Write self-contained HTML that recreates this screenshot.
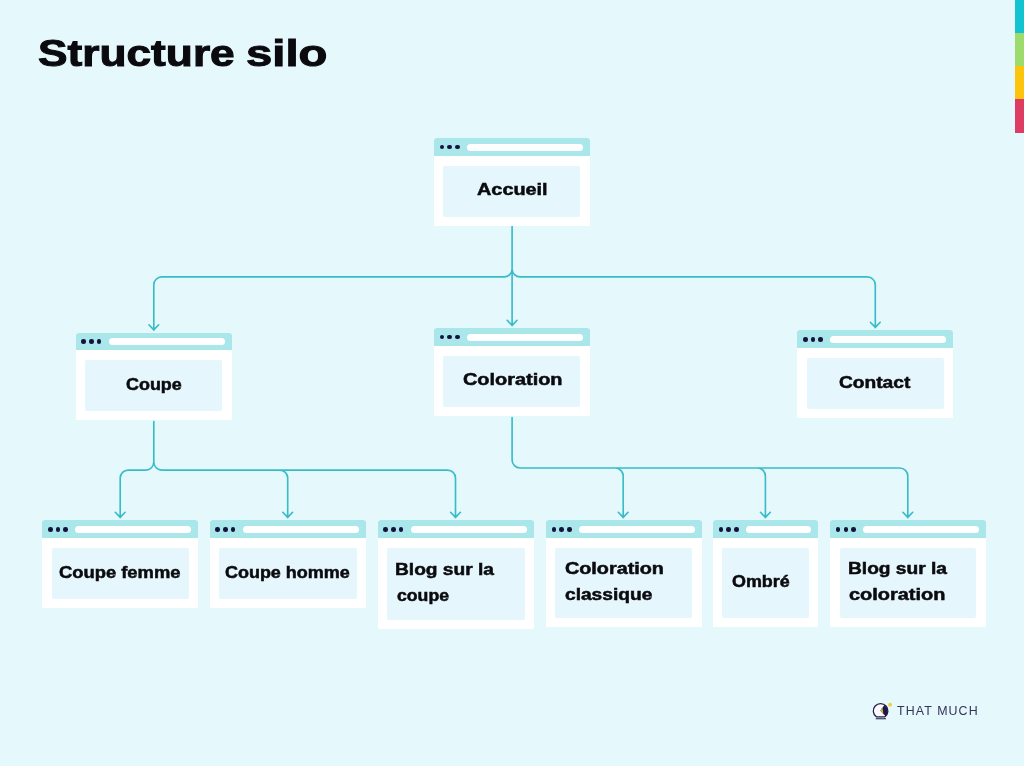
<!DOCTYPE html>
<html lang="fr">
<head>
<meta charset="utf-8">
<title>Structure silo</title>
<style>
html,body{margin:0;padding:0;}
body{width:1024px;height:766px;overflow:hidden;background:#e5f8fc;font-family:"Liberation Sans",sans-serif;color:#0b0b0f;}
#stage{position:relative;width:1024px;height:766px;overflow:hidden;background:#e5f8fc;}
h1{position:absolute;left:0;top:0;margin:0;font-weight:700;font-size:37.2px;line-height:44px;white-space:nowrap;-webkit-text-stroke:1px #0b0b0f;}
h1 span{will-change:transform;position:absolute;top:31.3px;transform-origin:0 0;display:block;}
.win{position:absolute;background:#fff;border-radius:3px 3px 1px 1px;overflow:hidden;}
.bar{position:absolute;left:0;top:0;right:0;height:17.8px;background:#a9e7ea;}
.dot{position:absolute;top:6.6px;width:4.6px;height:4.6px;border-radius:50%;background:#17123b;}
.url{position:absolute;left:33.2px;right:7px;top:5.4px;height:7.3px;border-radius:3.65px;background:#fff;}
.pane{position:absolute;left:9.5px;right:9.6px;top:27.6px;bottom:9.2px;background:#e5f7fd;border-radius:2px;}
.lbl{position:absolute;margin:0;font-weight:700;font-size:16.0px;line-height:20px;white-space:nowrap;transform-origin:0 0;-webkit-text-stroke:0.5px #0b0b0f;will-change:transform;}
svg{position:absolute;left:0;top:0;}
.strip{position:absolute;left:1015px;width:9px;}
.brand{will-change:transform;position:absolute;left:896.8px;top:702.5px;margin:0;font-size:12.4px;line-height:16px;letter-spacing:1.1px;color:#35335a;white-space:nowrap;}
</style>
</head>
<body>
<div id="stage">
<h1><span style="left:38.0px;transform:scaleX(1.19)">Structure</span> <span style="left:246.3px;transform:scaleX(1.27)">silo</span></h1>
<svg width="1024" height="766" viewBox="0 0 1024 766"><path d="M512.1,226 V325.7 M507.2,320.3 L512.1,325.4 L517.0,320.3 M512.1,268.9 A8,8 0 0 1 504.1,276.9 H161.8 A8,8 0 0 0 153.8,284.9 V330.2 M148.9,324.8 L153.8,329.9 L158.7,324.8 M512.1,268.9 A8,8 0 0 0 520.1,276.9 H867.3 A8,8 0 0 1 875.3,284.9 V327.7 M870.4,322.3 L875.3,327.4 L880.2,322.3 M153.8,421.5 V462.1 M153.8,462.1 A8,8 0 0 1 145.8,470.1 H128.2 A8,8 0 0 0 120.2,478.1 V517.7 M115.3,512.3 L120.2,517.4 L125.1,512.3 M153.8,462.1 A8,8 0 0 0 161.8,470.1 H447.5 A8,8 0 0 1 455.5,478.1 V517.7 M450.6,512.3 L455.5,517.4 L460.4,512.3 M279.7,470.1 A8,8 0 0 1 287.7,478.1 V517.7 M282.8,512.3 L287.7,517.4 L292.6,512.3 M512.1,417.5 V460.0 M512.1,460.0 A8,8 0 0 0 520.1,468.0 H899.8 A8,8 0 0 1 907.8,476.0 V517.7 M902.9,512.3 L907.8,517.4 L912.7,512.3 M615.2,468.0 A8,8 0 0 1 623.2,476.0 V517.7 M618.3,512.3 L623.2,517.4 L628.1,512.3 M757.4,468.0 A8,8 0 0 1 765.4,476.0 V517.7 M760.5,512.3 L765.4,517.4 L770.3,512.3" fill="none" stroke="#38bcc8" stroke-width="1.65" stroke-linecap="round" stroke-linejoin="round"/></svg>
<div class="win" style="left:433.8px;top:138.2px;width:156.2px;height:87.8px"><div class="bar"><i class="dot" style="left:5.9px"></i><i class="dot" style="left:13.6px"></i><i class="dot" style="left:21.4px"></i><div class="url"></div></div><div class="pane"></div><p class="lbl" style="left:43.21px;top:41.71px;transform:scaleX(1.241)">Accueil</p></div>
<div class="win" style="left:75.5px;top:332.6px;width:156.3px;height:87.5px"><div class="bar"><i class="dot" style="left:5.9px"></i><i class="dot" style="left:13.6px"></i><i class="dot" style="left:21.4px"></i><div class="url"></div></div><div class="pane"></div><p class="lbl" style="left:50.08px;top:42.41px;transform:scaleX(1.120)">Coupe</p></div>
<div class="win" style="left:433.8px;top:328.2px;width:156.2px;height:87.7px"><div class="bar"><i class="dot" style="left:5.9px"></i><i class="dot" style="left:13.6px"></i><i class="dot" style="left:21.4px"></i><div class="url"></div></div><div class="pane"></div><p class="lbl" style="left:28.71px;top:41.81px;transform:scaleX(1.244)">Coloration</p></div>
<div class="win" style="left:797.1px;top:330.4px;width:156.4px;height:87.7px"><div class="bar"><i class="dot" style="left:5.9px"></i><i class="dot" style="left:13.6px"></i><i class="dot" style="left:21.4px"></i><div class="url"></div></div><div class="pane"></div><p class="lbl" style="left:42.10px;top:42.11px;transform:scaleX(1.197)">Contact</p></div>
<div class="win" style="left:42.1px;top:520.4px;width:156.3px;height:87.7px"><div class="bar"><i class="dot" style="left:5.9px"></i><i class="dot" style="left:13.6px"></i><i class="dot" style="left:21.4px"></i><div class="url"></div></div><div class="pane"></div><p class="lbl" style="left:16.99px;top:42.11px;transform:scaleX(1.148)">Coupe femme</p></div>
<div class="win" style="left:209.5px;top:520.4px;width:156.7px;height:87.7px"><div class="bar"><i class="dot" style="left:5.9px"></i><i class="dot" style="left:13.6px"></i><i class="dot" style="left:21.4px"></i><div class="url"></div></div><div class="pane"></div><p class="lbl" style="left:15.88px;top:42.11px;transform:scaleX(1.122)">Coupe homme</p></div>
<div class="win" style="left:377.5px;top:520.4px;width:156.7px;height:108.6px"><div class="bar"><i class="dot" style="left:5.9px"></i><i class="dot" style="left:13.6px"></i><i class="dot" style="left:21.4px"></i><div class="url"></div></div><div class="pane"></div><p class="lbl" style="left:17.90px;top:39.11px;transform:scaleX(1.197)">Blog sur la</p><p class="lbl" style="left:19.08px;top:65.41px;transform:scaleX(1.104)">coupe</p></div>
<div class="win" style="left:545.8px;top:520.4px;width:156.1px;height:106.9px"><div class="bar"><i class="dot" style="left:5.9px"></i><i class="dot" style="left:13.6px"></i><i class="dot" style="left:21.4px"></i><div class="url"></div></div><div class="pane"></div><p class="lbl" style="left:18.81px;top:38.91px;transform:scaleX(1.236)">Coloration</p><p class="lbl" style="left:18.80px;top:64.71px;transform:scaleX(1.197)">classique</p></div>
<div class="win" style="left:712.9px;top:520.4px;width:105.5px;height:106.9px"><div class="bar"><i class="dot" style="left:5.9px"></i><i class="dot" style="left:13.6px"></i><i class="dot" style="left:21.4px"></i><div class="url"></div></div><div class="pane"></div><p class="lbl" style="left:19.38px;top:51.11px;transform:scaleX(1.119)">Ombré</p></div>
<div class="win" style="left:830.0px;top:520.4px;width:156.0px;height:106.4px"><div class="bar"><i class="dot" style="left:5.9px"></i><i class="dot" style="left:13.6px"></i><i class="dot" style="left:21.4px"></i><div class="url"></div></div><div class="pane"></div><p class="lbl" style="left:17.80px;top:38.91px;transform:scaleX(1.197)">Blog sur la</p><p class="lbl" style="left:19.01px;top:64.31px;transform:scaleX(1.246)">coloration</p></div>
<div class="strip" style="top:0px;height:32.5px;background:#12c4d0"></div>
<div class="strip" style="top:32.5px;height:33.3px;background:#9ddb6d"></div>
<div class="strip" style="top:65.8px;height:33.2px;background:#fcc40c"></div>
<div class="strip" style="top:99px;height:33.7px;background:#de3c63"></div>
<svg width="1024" height="766" viewBox="0 0 1024 766">
<g>
<path d="M876.3,716.8 A7.3,7.3 0 1 1 884.9,716.8 Z" fill="#fbfaff" stroke="#1e1b40" stroke-width="1.25" stroke-linejoin="round"/>
<path d="M880.4,710.8 L884.4,704.9 A7.3,7.3 0 0 1 885.6,716.2 Z" fill="#231447"/>
<path d="M880.8,709.8 L882.6,707.6 L883.3,713.2 L881.6,712.2 Z" fill="#e9b93a"/>
<path d="M881.2,709.2 L882.6,707.4 L882.9,710.2 Z" fill="#1f9a9a"/>
<path d="M876.2,718.7 H885.6" stroke="#1e1b40" stroke-width="1.1" stroke-linecap="round" fill="none"/>
<circle cx="890.1" cy="704.7" r="1.9" fill="#f2cc3c"/>
</g>
</svg>
<p class="brand">THAT MUCH</p>
</div>
</body>
</html>
